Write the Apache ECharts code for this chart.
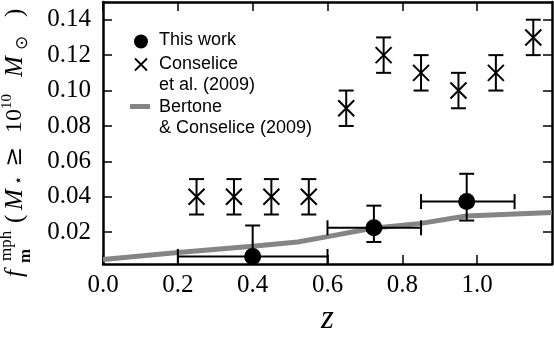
<!DOCTYPE html>
<html>
<head>
<meta charset="utf-8">
<script src="https://cdn.jsdelivr.net/npm/echarts@6/dist/echarts.min.js"></script>
<style>
  html, body { margin: 0; padding: 0; background: #fff; }
  #main { width: 554px; height: 341px; }
</style>
</head>
<body>
<div id="main"></div>
<script>
// this work: points with asymmetric errors in z and f
const thisWorkZ = [0.40, 0.724, 0.972];
const thisWorkF = [0.0063, 0.0225, 0.0373];
const thisWorkZLo = [0.20, 0.60, 0.85];
const thisWorkZHi = [0.60, 0.85, 1.10];
const thisWorkFLo = [-0.011, 0.0145, 0.0266];
const thisWorkFHi = [0.0238, 0.035, 0.053];

// Conselice et al. (2009)
const conseliceZ = [0.25, 0.35, 0.45, 0.55, 0.65, 0.75, 0.85, 0.95, 1.05, 1.15];
const conseliceF = [0.04, 0.04, 0.04, 0.04, 0.09, 0.12, 0.11, 0.10, 0.11, 0.13];
const conseliceErr = [0.01, 0.01, 0.01, 0.01, 0.01, 0.01, 0.01, 0.01, 0.01, 0.01];

// Bertone & Conselice (2009) model
const modelZ = [0.0, 0.2, 0.4, 0.52, 0.6, 0.72, 0.85, 0.97, 1.2];
const modelF = [0.0046, 0.0086, 0.0121, 0.0145, 0.0175, 0.0222, 0.0250, 0.0292, 0.0312];

const xTicks = [0.0, 0.2, 0.4, 0.6, 0.8, 1.0];
const yTicks = [0.02, 0.04, 0.06, 0.08, 0.10, 0.12, 0.14];

const serif = 'Liberation Serif';
const sans = 'Liberation Sans';

let myChart = echarts.init(document.getElementById('main'));

function axisCommon() {
  return {
    axisLine: { show: true, onZero: false, lineStyle: { color: '#000', width: 2.5 } },
    splitLine: { show: false }
  };
}

function ticks(vals) {
  return { show: true, inside: true, length: 9, customValues: vals, lineStyle: { color: '#000', width: 1.5 } };
}

const capHalf = 7.5;

function txt(x, y, s, font) {
  return { type: 'text', x: x, y: y, style: { text: s, font: font, fill: '#000', verticalAlign: 'middle' } };
}

let option = {
  animation: false,
  backgroundColor: '#fff',
  grid: { left: 103, right: 2, top: 2, bottom: 63 },
  xAxis: [
    Object.assign(axisCommon(), {
      type: 'value', min: 0, max: 1.2, position: 'bottom',
      axisTick: ticks(xTicks),
      axisLabel: {
        customValues: xTicks, margin: 9,
        fontFamily: serif, fontSize: 25, color: '#000',
        formatter: v => v.toFixed(1)
      },
      name: 'z', nameLocation: 'middle', nameGap: 30,
      nameTextStyle: { fontFamily: serif, fontStyle: 'italic', fontSize: 33, color: '#000' }
    }),
    Object.assign(axisCommon(), {
      type: 'value', min: 0, max: 1.2, position: 'top',
      axisTick: ticks(xTicks),
      axisLabel: { show: false }
    })
  ],
  yAxis: [
    Object.assign(axisCommon(), {
      type: 'value', min: 0.002, max: 0.15, position: 'left',
      axisTick: ticks(yTicks),
      axisLabel: {
        customValues: yTicks, margin: 12,
        fontFamily: serif, fontSize: 25, color: '#000',
        formatter: v => v.toFixed(2)
      }
    }),
    Object.assign(axisCommon(), {
      type: 'value', min: 0.002, max: 0.15, position: 'right',
      axisTick: ticks(yTicks),
      axisLabel: { show: false }
    })
  ],
  series: [
    {
      name: 'Bertone & Conselice (2009)',
      type: 'line',
      data: modelZ.map((z, i) => [z, modelF[i]]),
      showSymbol: false,
      lineStyle: { color: '#858585', width: 5 },
      z: 1
    },
    {
      name: 'conselice err',
      type: 'custom',
      clip: true,
      data: conseliceZ.map((z, i) => [z, conseliceF[i] - conseliceErr[i], conseliceF[i] + conseliceErr[i]]),
      renderItem: function (params, api) {
        const lo = api.coord([api.value(0), api.value(1)]);
        const hi = api.coord([api.value(0), api.value(2)]);
        const st = { stroke: '#000', lineWidth: 2 };
        return {
          type: 'group',
          children: [
            { type: 'line', shape: { x1: lo[0], y1: lo[1], x2: hi[0], y2: hi[1] }, style: st },
            { type: 'line', shape: { x1: lo[0] - capHalf, y1: lo[1], x2: lo[0] + capHalf, y2: lo[1] }, style: st },
            { type: 'line', shape: { x1: hi[0] - capHalf, y1: hi[1], x2: hi[0] + capHalf, y2: hi[1] }, style: st }
          ]
        };
      },
      z: 2
    },
    {
      name: 'this work err',
      type: 'custom',
      clip: true,
      data: thisWorkZ.map((z, i) => [z, thisWorkF[i], thisWorkZLo[i], thisWorkZHi[i], thisWorkFLo[i], thisWorkFHi[i]]),
      renderItem: function (params, api) {
        const l = api.coord([api.value(2), api.value(1)]);
        const r = api.coord([api.value(3), api.value(1)]);
        const b = api.coord([api.value(0), api.value(4)]);
        const t = api.coord([api.value(0), api.value(5)]);
        const st = { stroke: '#000', lineWidth: 2 };
        return {
          type: 'group',
          children: [
            { type: 'line', shape: { x1: l[0], y1: l[1], x2: r[0], y2: r[1] }, style: st },
            { type: 'line', shape: { x1: l[0], y1: l[1] - capHalf, x2: l[0], y2: l[1] + capHalf }, style: st },
            { type: 'line', shape: { x1: r[0], y1: r[1] - capHalf, x2: r[0], y2: r[1] + capHalf }, style: st },
            { type: 'line', shape: { x1: b[0], y1: b[1], x2: t[0], y2: t[1] }, style: st },
            { type: 'line', shape: { x1: b[0] - capHalf, y1: b[1], x2: b[0] + capHalf, y2: b[1] }, style: st },
            { type: 'line', shape: { x1: t[0] - capHalf, y1: t[1], x2: t[0] + capHalf, y2: t[1] }, style: st }
          ]
        };
      },
      z: 2
    },
    {
      name: 'Conselice et al. (2009)',
      type: 'scatter',
      data: conseliceZ.map((z, i) => [z, conseliceF[i]]),
      symbol: 'path://M0,0L10,10M10,0L0,10',
      symbolSize: 16,
      itemStyle: { color: 'none', borderColor: '#000', borderWidth: 2, opacity: 1 },
      z: 3
    },
    {
      name: 'This work',
      type: 'scatter',
      data: thisWorkZ.map((z, i) => [z, thisWorkF[i]]),
      symbol: 'circle',
      symbolSize: 17,
      itemStyle: { color: '#000', opacity: 1 },
      z: 4
    }
  ],
  graphic: [
    // legend
    { type: 'circle', shape: { cx: 141, cy: 41.5, r: 7 }, style: { fill: '#000' } },
    { type: 'line', shape: { x1: 135, y1: 58.5, x2: 147, y2: 70.5 }, style: { stroke: '#000', lineWidth: 1.8 } },
    { type: 'line', shape: { x1: 147, y1: 58.5, x2: 135, y2: 70.5 }, style: { stroke: '#000', lineWidth: 1.8 } },
    { type: 'rect', shape: { x: 130, y: 104, width: 20, height: 5 }, style: { fill: '#858585' } },
    { type: 'text', left: 159, top: 31, style: { text: 'This work', font: '18px ' + sans, fill: '#000' } },
    { type: 'text', left: 159, top: 53, style: { text: 'Conselice\net al. (2009)\nBertone\n& Conselice (2009)', font: '18px ' + sans, lineHeight: 21.5, fill: '#000' } },
    // y-axis title, rotated
    {
      type: 'group', x: 0, y: 278, rotation: Math.PI / 2,
      children: [
        txt(1, 15, 'f', 'italic 25px ' + serif),
        txt(17, 7, 'mph', '17px ' + serif),
        txt(15, 26, 'm', 'bold 17px ' + serif),
        txt(55, 15, '(', '25px ' + serif),
        txt(68, 15, 'M', 'italic 25px ' + serif),
        txt(93, 19, '⋆', '15px DejaVu Sans'),
        txt(111, 15, '≥', '24px DejaVu Serif'),
        txt(145, 15, '10', '24px ' + serif),
        txt(169, 7, '10', '15px ' + serif),
        txt(201, 15, 'M', 'italic 25px ' + serif),
        txt(228, 23, '⊙', '17px DejaVu Sans'),
        txt(261, 15, ')', '25px ' + serif)
      ]
    }
  ]
};
myChart.setOption(option);
</script>
</body>
</html>
